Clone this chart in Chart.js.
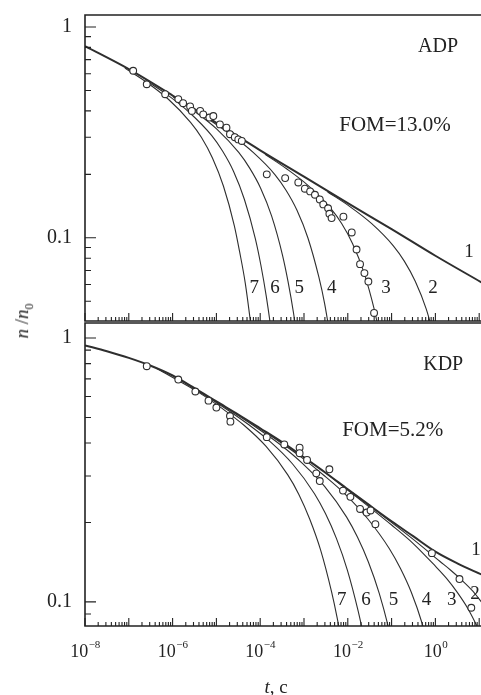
<!DOCTYPE html>
<html lang="ru">
<head>
<meta charset="UTF-8">
<title>n/n0 (t): ADP, KDP</title>
<script src="https://cdn.jsdelivr.net/npm/chart.js"></script>
<style>
  body { margin: 0; background: #fff; }
  .wrap {
    position: relative;
    width: 481px;
    height: 695px;
    overflow: hidden;
    font-family: "Liberation Serif", "DejaVu Serif", serif;
    color: #222;
  }
  #adpChart { position: absolute; left: 0; top: 0; }
  #kdpChart { position: absolute; left: 0; top: 322px; }
  .ytitle {
    position: absolute;
    left: 24px;
    top: 321px;
    transform: translate(-50%, -50%) rotate(-90deg);
    font-size: 19px;
    white-space: nowrap;
  }
  .ytitle sub { font-size: 12px; }
  .xtitle {
    position: absolute;
    left: 276px;
    top: 687px;
    transform: translate(-50%, -50%);
    font-size: 19px;
    white-space: nowrap;
  }
</style>
</head>
<body>
<div class="wrap">
  <canvas id="adpChart" width="481" height="322"></canvas>
  <canvas id="kdpChart" width="481" height="373"></canvas>
  <div class="ytitle"><i>n</i> /<i>n</i><sub>0</sub></div>
  <div class="xtitle"><i>t</i>, c</div>
</div>

<script>
// axes
const tMin = 1e-8, tMax = 11;
const xTickVals = [1e-8, 1e-6, 1e-4, 1e-2, 1];
const xTickExp = ['−8', '−6', '−4', '−2', '0'];
const yTickVals = [0.1, 1];
const yTickLabels = ['0.1', '1'];
const adpRange = [0.0403, 1.14];
const kdpRange = [0.081, 1.14];

// ADP (top panel): times are given as log10(t)
const adpDotsT = [-6.90, -6.59, -6.17, -5.87, -5.76, -5.60, -5.56, -5.37, -5.30, -5.16, -5.07, -4.92, -4.77, -4.69, -4.58, -4.50, -4.42,
                  -3.85, -3.43, -3.13, -2.98, -2.86, -2.75, -2.64, -2.56, -2.45, -2.42, -2.37, -2.10, -1.91, -1.80, -1.72, -1.62, -1.53, -1.40];
const adpDotsN = [0.62, 0.535, 0.48, 0.455, 0.435, 0.42, 0.40, 0.40, 0.385, 0.372, 0.378, 0.345, 0.333, 0.31, 0.30, 0.293, 0.288,
                  0.20, 0.192, 0.183, 0.171, 0.166, 0.160, 0.152, 0.144, 0.138, 0.13, 0.124, 0.126, 0.106, 0.088, 0.075, 0.068, 0.062, 0.044];

const adpC1T = [-8, -7, -6, -5, -4, -3, -2, -1, 0, 1.05];
const adpC1 = [0.811, 0.631, 0.473, 0.351, 0.260, 0.195, 0.146, 0.110, 0.0822, 0.0615];
const adpC2T = [-2.46, -1.96, -1.46, -0.96, -0.71, -0.46, -0.21, 0.04];
const adpC2 = [0.165, 0.141, 0.117, 0.0916, 0.0775, 0.0622, 0.046, 0.030];
const adpC3T = [-3.89, -3.39, -2.89, -2.39, -2.14, -1.89, -1.64, -1.39, -1.265];
const adpC3 = [0.249, 0.212, 0.176, 0.138, 0.117, 0.0938, 0.0693, 0.0452, 0.034];
const adpC4T = [-5.16, -4.66, -4.16, -3.66, -3.41, -3.16, -2.91, -2.66, -2.53, -2.41, -2.28];
const adpC4 = [0.363, 0.308, 0.254, 0.199, 0.168, 0.135, 0.0998, 0.065, 0.0489, 0.0347, 0.0227];
const adpC5T = [-5.99, -5.49, -4.99, -4.49, -4.24, -3.99, -3.74, -3.49, -3.365, -3.24, -3.115];
const adpC5 = [0.467, 0.397, 0.328, 0.254, 0.214, 0.172, 0.127, 0.0826, 0.0621, 0.0441, 0.0288];
const adpC6T = [-6.61, -6.11, -5.61, -5.11, -4.86, -4.61, -4.36, -4.11, -3.985, -3.86, -3.735, -3.61];
const adpC6 = [0.557, 0.475, 0.392, 0.306, 0.258, 0.207, 0.152, 0.0989, 0.0743, 0.0526, 0.0344, 0.0205];
const adpC7T = [-7.09, -6.59, -6.09, -5.59, -5.34, -5.09, -4.84, -4.59, -4.47, -4.34, -4.22, -4.09];
const adpC7 = [0.638, 0.546, 0.453, 0.353, 0.299, 0.239, 0.176, 0.114, 0.0859, 0.0608, 0.0396, 0.0236];

const adpNoteText = ['ADP', 'FOM=13.0%', '1', '2', '3', '4', '5', '6', '7'];
const adpNoteT = [1.15, 0.12, 5.85, 0.88, 0.0745, 0.0043, 0.00078, 0.000218, 0.000073];
const adpNoteN = [0.803, 0.341, 0.086, 0.058, 0.058, 0.058, 0.058, 0.058, 0.058];

// KDP (bottom panel)
const kdpDotsT = [-6.59, -5.87, -5.48, -5.18, -5.00, -4.69, -4.68, -3.85, -3.45, -3.10, -3.10, -2.93, -2.72, -2.64, -2.42, -2.11,
                  -1.94, -1.72, -1.57, -1.48, -1.37, -0.08, 0.55, 0.82];
const kdpDotsN = [0.782, 0.696, 0.627, 0.579, 0.545, 0.506, 0.482, 0.421, 0.395, 0.384, 0.366, 0.345, 0.307, 0.287, 0.318, 0.264,
                  0.250, 0.225, 0.218, 0.222, 0.197, 0.153, 0.122, 0.095];

const kdpC1T = [-8, -7.5, -7, -6.5, -6, -5.5, -5, -4.5, -4, -3.5, -3, -2.5, -2, -1.5, -1, -0.5, 0, 0.5, 1.05];
const kdpC1 = [0.938, 0.891, 0.841, 0.785, 0.721, 0.646, 0.575, 0.513, 0.455, 0.403, 0.353, 0.308, 0.267, 0.232, 0.202, 0.177, 0.155, 0.140, 0.127];
const kdpC2T = [-1.9, -0.9, -0.4, 0.1, 0.35, 0.6, 0.85, 1.05];
const kdpC2 = [0.260, 0.194, 0.167, 0.1425, 0.1318, 0.121, 0.110, 0.100];
const kdpC3T = [-2.5, -1.5, -1.0, -0.5, 0, 0.25, 0.5, 0.75, 1.0, 1.1];
const kdpC3 = [0.308, 0.228, 0.1955, 0.166, 0.1365, 0.123, 0.1086, 0.0938, 0.0776, 0.071];
const kdpC4T = [-4.05, -3.05, -2.55, -2.05, -1.55, -1.05, -0.8, -0.55, -0.3, -0.05];
const kdpC4 = [0.460, 0.352, 0.302, 0.255, 0.207, 0.159, 0.134, 0.1087, 0.0826, 0.0578];
const kdpC5T = [-5.03, -4.03, -3.53, -3.03, -2.53, -2.03, -1.78, -1.53, -1.28, -1.03, -0.905];
const kdpC5 = [0.579, 0.451, 0.393, 0.334, 0.274, 0.210, 0.176, 0.1416, 0.1075, 0.075, 0.060];
const kdpC6T = [-5.76, -4.76, -4.26, -3.76, -3.26, -2.76, -2.51, -2.26, -2.01, -1.76, -1.635, -1.51];
const kdpC6 = [0.684, 0.536, 0.469, 0.403, 0.333, 0.257, 0.216, 0.174, 0.132, 0.0918, 0.0735, 0.0565];
const kdpC7T = [-6.37, -5.37, -4.87, -4.37, -3.87, -3.37, -3.12, -2.87, -2.62, -2.37, -2.245, -2.12, -2.0];
const kdpC7 = [0.768, 0.617, 0.541, 0.467, 0.389, 0.303, 0.256, 0.206, 0.157, 0.109, 0.0873, 0.0673, 0.0499];

const kdpNoteText = ['KDP', 'FOM=5.2%', '1', '2', '3', '4', '5', '6', '7'];
const kdpNoteT = [1.51, 0.106, 8.45, 8.0, 2.36, 0.627, 0.11, 0.026, 0.00726];
const kdpNoteN = [0.79, 0.445, 0.157, 0.107, 0.102, 0.102, 0.102, 0.102, 0.102];

const FONT = '"Liberation Serif", "DejaVu Serif", serif';
const INK = '#222';

function pts(logT, n) {
  return logT.map((e, i) => ({ x: Math.pow(10, e), y: n[i] }));
}

function curve(logT, n, width) {
  return {
    data: pts(logT, n),
    showLine: true,
    pointRadius: 0,
    borderColor: '#2e2e2e',
    borderWidth: width,
    cubicInterpolationMode: 'monotone',
    clip: 0
  };
}

function dots(logT, n) {
  return {
    data: pts(logT, n),
    showLine: false,
    pointRadius: 3.4,
    pointBorderWidth: 1.1,
    pointBorderColor: '#2e2e2e',
    pointBackgroundColor: '#fff'
  };
}

// frame, inward tick marks, x labels (10 with a small exponent) and the text notes
const panelDecor = {
  id: 'panelDecor',
  afterDatasetsDraw(chart, args, opts) {
    const { ctx, chartArea: a } = chart;
    const x = chart.scales.x, y = chart.scales.y;
    ctx.save();
    ctx.strokeStyle = INK;
    ctx.lineWidth = 1.6;
    ctx.beginPath();
    ctx.moveTo(a.right, a.top);
    ctx.lineTo(a.left, a.top);
    ctx.lineTo(a.left, a.bottom);
    ctx.lineTo(a.right, a.bottom);
    ctx.stroke();

    ctx.lineWidth = 1.1;
    ctx.beginPath();
    for (let e = -8; e <= 1; e++) {
      for (let m = 1; m <= 9; m++) {
        const v = m * Math.pow(10, e);
        if (v < x.min || v > x.max) continue;
        const px = x.getPixelForValue(v);
        ctx.moveTo(px, a.bottom);
        ctx.lineTo(px, a.bottom - (m === 1 ? 8 : 4));
      }
    }
    for (let e = -2; e <= 0; e++) {
      for (let m = 1; m <= 9; m++) {
        const v = m * Math.pow(10, e);
        if (v < y.min || v > y.max) continue;
        const py = y.getPixelForValue(v);
        ctx.moveTo(a.left, py);
        ctx.lineTo(a.left + (m === 1 ? 11 : 6), py);
      }
    }
    ctx.stroke();

    ctx.fillStyle = INK;
    ctx.textBaseline = 'middle';
    if (opts.xLabels) {
      ctx.textAlign = 'left';
      xTickVals.forEach((v, i) => {
        ctx.font = '18px ' + FONT;
        const wb = ctx.measureText('10').width;
        ctx.font = '11px ' + FONT;
        const we = ctx.measureText(xTickExp[i]).width;
        const left = x.getPixelForValue(v) - (wb + we) / 2;
        ctx.font = '18px ' + FONT;
        ctx.fillText('10', left, a.bottom + 26);
        ctx.font = '11px ' + FONT;
        ctx.fillText(xTickExp[i], left + wb + 0.5, a.bottom + 19);
      });
    }

    ctx.textAlign = 'center';
    opts.text.forEach((s, i) => {
      const size = s.length === 1 ? 19 : (s.startsWith('FOM') ? 21 : 20);
      ctx.font = size + 'px ' + FONT;
      ctx.fillText(s, x.getPixelForValue(opts.t[i]), y.getPixelForValue(opts.n[i]));
    });
    ctx.restore();
  }
};

function panelOptions(range, showX, padTop, xHeight, notes) {
  return {
    responsive: false,
    animation: false,
    devicePixelRatio: 1,
    events: [],
    layout: { autoPadding: false, padding: { left: 0, right: 0, top: padTop, bottom: showX ? 0 : 1 } },
    plugins: {
      legend: { display: false },
      tooltip: { enabled: false },
      panelDecor: Object.assign({ xLabels: showX }, notes)
    },
    scales: {
      x: {
        type: 'logarithmic',
        min: tMin,
        max: tMax,
        grid: { display: false, drawTicks: false },
        border: { display: false },
        afterBuildTicks: s => { s.ticks = xTickVals.map(v => ({ value: v })); },
        afterFit: s => { s.height = xHeight; s.paddingLeft = 0; s.paddingRight = 0; },
        ticks: { display: false }
      },
      y: {
        type: 'logarithmic',
        min: range[0],
        max: range[1],
        grid: { display: false, drawTicks: false },
        border: { display: false },
        afterBuildTicks: s => { s.ticks = yTickVals.map(v => ({ value: v })); },
        afterFit: s => { s.width = 85; s.paddingTop = 0; s.paddingBottom = 0; },
        ticks: {
          padding: 13,
          color: INK,
          font: { family: FONT, size: 20 },
          callback: (v, i) => yTickLabels[i]
        }
      }
    }
  };
}

new Chart(document.getElementById('adpChart'), {
  type: 'scatter',
  data: {
    datasets: [
      dots(adpDotsT, adpDotsN),
      curve(adpC1T, adpC1, 2),
      curve(adpC2T, adpC2, 1.1),
      curve(adpC3T, adpC3, 1.1),
      curve(adpC4T, adpC4, 1.1),
      curve(adpC5T, adpC5, 1.1),
      curve(adpC6T, adpC6, 1.1),
      curve(adpC7T, adpC7, 1.1)
    ]
  },
  options: panelOptions(adpRange, false, 15, 0, { text: adpNoteText, t: adpNoteT, n: adpNoteN }),
  plugins: [panelDecor]
});

new Chart(document.getElementById('kdpChart'), {
  type: 'scatter',
  data: {
    datasets: [
      dots(kdpDotsT, kdpDotsN),
      curve(kdpC1T, kdpC1, 2),
      curve(kdpC2T, kdpC2, 1.1),
      curve(kdpC3T, kdpC3, 1.1),
      curve(kdpC4T, kdpC4, 1.1),
      curve(kdpC5T, kdpC5, 1.1),
      curve(kdpC6T, kdpC6, 1.1),
      curve(kdpC7T, kdpC7, 1.1)
    ]
  },
  options: panelOptions(kdpRange, true, 1, 69, { text: kdpNoteText, t: kdpNoteT, n: kdpNoteN }),
  plugins: [panelDecor]
});
</script>
</body>
</html>
